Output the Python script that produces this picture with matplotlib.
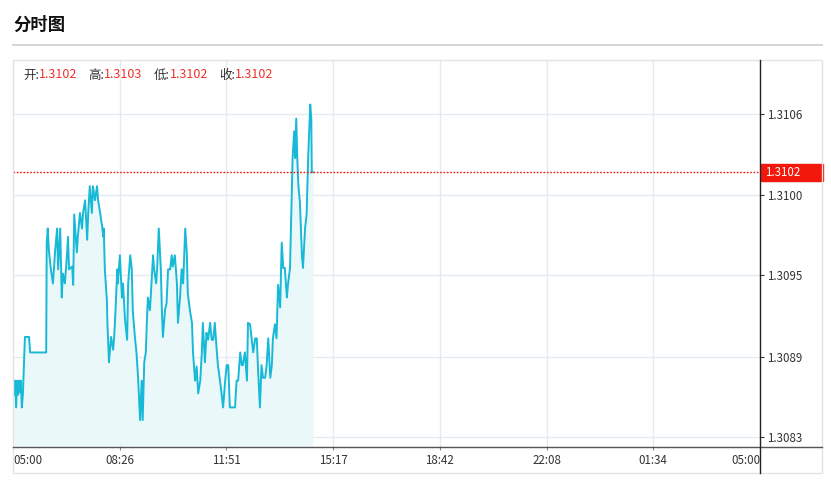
import matplotlib
matplotlib.use("Agg")
import matplotlib.pyplot as plt
import matplotlib.transforms as mtransforms
from matplotlib.lines import Line2D
from matplotlib.patches import Rectangle

plt.rcParams['font.family'] = ['Noto Sans CJK SC', 'DejaVu Sans']

# minutes since 05:00 and last price
minutes = [2, 4, 6, 8, 10, 12, 13, 15, 17, 19, 21, 23, 31, 33, 64, 65, 67, 69, 73, 77,
           81, 85, 87, 91, 94, 96, 100, 104, 106, 108, 114, 116, 118, 123, 125, 129, 133, 135, 139, 143,
           145, 148, 152, 154, 158, 162, 164, 168, 172, 174, 175, 177, 181, 182, 185, 187, 189, 193, 195, 197,
           201, 202, 206, 210, 212, 216, 220, 222, 226, 229, 231, 235, 238, 241, 245, 248, 250, 253, 256, 258,
           260, 264, 267, 270, 272, 276, 278, 281, 285, 287, 289, 293, 296, 299, 303, 306, 308, 312, 316, 318,
           322, 325, 328, 332, 335, 337, 341, 345, 347, 351, 354, 357, 361, 364, 366, 370, 373, 376, 380, 383,
           386, 389, 393, 395, 399, 402, 405, 409, 412, 415, 418, 428, 431, 434, 438, 441, 443, 447, 451, 453,
           457, 460, 463, 467, 470, 472, 476, 479, 482, 486, 489, 492, 496, 499, 501, 505, 508, 511, 515, 518,
           521, 524, 528, 530, 534, 537, 539, 542, 544, 546, 548, 550, 553, 557, 559, 563, 566, 569, 573, 575,
           576, 578]
prices = [1.30861, 1.30871, 1.30852, 1.30871, 1.30861, 1.30871, 1.30863, 1.30871, 1.30852, 1.30861,
          1.30881, 1.30902, 1.30902, 1.30891, 1.30891, 1.30969, 1.30979, 1.30964, 1.30950, 1.30940,
          1.30962, 1.30979, 1.30950, 1.30979, 1.30930, 1.30947, 1.30940, 1.30960, 1.30973, 1.30950,
          1.30952, 1.30939, 1.30989, 1.30962, 1.30973, 1.30990, 1.30979, 1.30990, 1.30999, 1.30971,
          1.30990, 1.31009, 1.30990, 1.31009, 1.30999, 1.31009, 1.30999, 1.30990, 1.30980, 1.30973,
          1.30979, 1.30950, 1.30928, 1.30912, 1.30884, 1.30893, 1.30902, 1.30893, 1.30902, 1.30916,
          1.30950, 1.30940, 1.30960, 1.30930, 1.30940, 1.30914, 1.30900, 1.30940, 1.30960, 1.30950,
          1.30920, 1.30902, 1.30891, 1.30874, 1.30843, 1.30871, 1.30843, 1.30884, 1.30891, 1.30912,
          1.30930, 1.30921, 1.30940, 1.30960, 1.30950, 1.30940, 1.30952, 1.30979, 1.30950, 1.30921,
          1.30902, 1.30921, 1.30926, 1.30950, 1.30950, 1.30960, 1.30952, 1.30960, 1.30940, 1.30912,
          1.30930, 1.30950, 1.30940, 1.30979, 1.30962, 1.30933, 1.30921, 1.30912, 1.30891, 1.30871,
          1.30881, 1.30862, 1.30871, 1.30891, 1.30912, 1.30884, 1.30905, 1.30900, 1.30912, 1.30900,
          1.30900, 1.30912, 1.30891, 1.30882, 1.30871, 1.30862, 1.30852, 1.30871, 1.30882, 1.30882,
          1.30852, 1.30852, 1.30871, 1.30871, 1.30891, 1.30882, 1.30882, 1.30891, 1.30871, 1.30912,
          1.30911, 1.30901, 1.30891, 1.30901, 1.30901, 1.30882, 1.30852, 1.30882, 1.30873, 1.30873,
          1.30882, 1.30901, 1.30873, 1.30882, 1.30901, 1.30911, 1.30901, 1.30939, 1.30923, 1.30969,
          1.30951, 1.30951, 1.30930, 1.30939, 1.30951, 1.30998, 1.31029, 1.31048, 1.31029, 1.31057,
          1.31029, 1.31010, 1.30998, 1.30960, 1.30951, 1.30979, 1.30989, 1.31029, 1.31067, 1.31057,
          1.31019, 1.31019]

x_tick_minutes = [0, 205.7, 411.4, 617.1, 822.9, 1028.6, 1234.3, 1440]
x_tick_labels = ['05:00', '08:26', '11:51', '15:17', '18:42', '22:08', '01:34', '05:00']
y_tick_values = [1.30831, 1.30888, 1.30946, 1.31003, 1.31060]

ohlc_names = ['开:', '高:', '低:', '收:']
ohlc_values = ['1.3102', '1.3103', '1.3102', '1.3102']
last_label = '1.3102'

W, H = 831, 483
def fx(x):
    return x / W
def fy(y):
    return 1 - y / H

LINE = '#17b9d7'
FILL = '#eaf8fa'
GRID = '#e2ebf1'
RED = '#f2180c'

fig = plt.figure(figsize=(W / 100, H / 100), dpi=100)

# title and separator
fig.text(fx(13), fy(25), '分时图', fontsize=12.5, fontweight='bold', va='center', ha='left', color='#111')
fig.add_artist(Line2D([fx(13), fx(822)], [fy(45), fy(45)], color='#d2d2d2', lw=1.3))

# outer frame
fig.add_artist(Rectangle((fx(13), fy(473)), fx(822) - fx(13), fy(60) - fy(473),
                         transform=fig.transFigure, fill=False, ec='#e4e4e4', lw=1))

ax = fig.add_axes([fx(13), fy(446), fx(760) - fx(13), fy(60) - fy(446)])
ax.set_xlim(0, 1440)
ax.set_ylim(1.308246, 1.310986)
for s in ax.spines.values():
    s.set_visible(False)
ax.patch.set_alpha(0)

ax.fill_between(minutes, prices, 1.308246, color=FILL, lw=0, zorder=1)
ax.plot(minutes, prices, color=LINE, lw=1.4, zorder=3)

ax.set_yticks(y_tick_values)
ax.set_yticklabels([f'{v:.4f}' for v in y_tick_values])
ax.yaxis.tick_right()
ax.tick_params(axis='y', length=3, color='#333', labelsize=8.3, labelcolor='#333', pad=2)

ax.set_xticks(x_tick_minutes)
ax.set_xticklabels(x_tick_labels)
ax.tick_params(axis='x', length=3, color='#888', labelsize=8.3, labelcolor='#333', pad=3)
labels = ax.get_xticklabels()
labels[0].set_ha('left')
labels[-1].set_ha('right')
ax.grid(True, color=GRID, lw=1, zorder=0)
ax.set_axisbelow(True)

# last price line and tag
last = prices[-1]
ax.axhline(last, color=RED, lw=1, ls=(0, (1.2, 1.2)), zorder=4)
blend = mtransforms.blended_transform_factory(ax.transAxes, ax.transData)
px_data = (1.310986 - 1.308246) / 386
ax.add_patch(Rectangle((1.001, last - 8.5 * px_data), 62 / 747, 17 * px_data,
                       transform=blend, color=RED, clip_on=False, zorder=5))
ax.text(1.007, last, last_label, transform=blend, color='white', fontsize=8.3,
        va='center', ha='left', zorder=6)

# axis lines
fig.add_artist(Line2D([fx(13), fx(822)], [fy(446.5), fy(446.5)], color='#555', lw=1))
fig.add_artist(Line2D([fx(759.5), fx(759.5)], [fy(60), fy(473)], color='#222', lw=1))

# OHLC header
name_x = [23, 88, 154, 219]
for nx, name, val in zip(name_x, ohlc_names, ohlc_values):
    fig.text(fx(nx), fy(75), name, fontsize=9, color='#333', va='center', ha='left')
    fig.text(fx(nx + 16), fy(75), val, fontsize=9, color='#f0302a', va='center', ha='left')

fig.savefig('out.png', dpi=100)
